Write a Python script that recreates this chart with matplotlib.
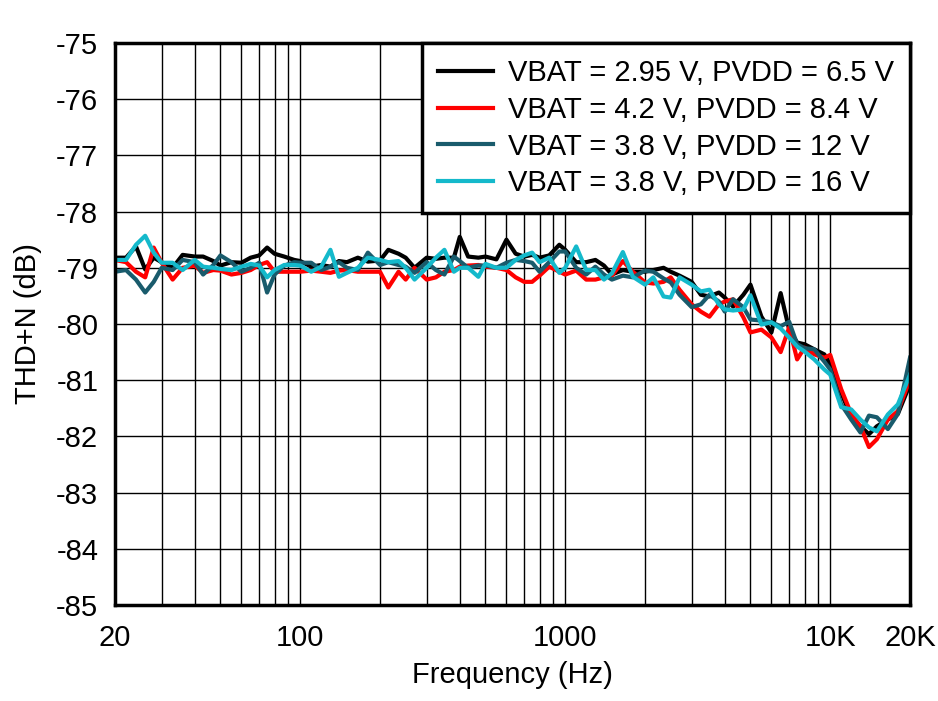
import matplotlib
matplotlib.use("Agg")
import matplotlib.pyplot as plt
from matplotlib.ticker import FixedLocator, FixedFormatter, LogLocator, NullFormatter

plt.rcParams['font.family'] = ['Liberation Sans', 'DejaVu Sans']
plt.rcParams['axes.unicode_minus'] = False

# frequency points (Hz)
freq = [20, 22, 24, 26, 28, 30, 33, 36, 40, 43, 47, 50, 55, 60, 65, 70, 75, 80, 87, 95,
        100, 110, 120, 130, 140, 150, 165, 180, 200, 215, 235, 250, 270, 300, 325, 350, 380, 400, 430, 470,
        500, 550, 600, 650, 700, 750, 800, 870, 950, 1000, 1100, 1200, 1300, 1400, 1500, 1650, 1800, 2000,
        2150, 2350, 2500, 2700, 3000, 3250, 3500, 3800, 4000, 4300, 4700, 5000, 5500, 6000, 6500, 7000,
        7500, 8000, 8700, 9500, 10000, 11000, 12000, 13000, 14000, 15000, 16500, 18000, 20000]

# THD+N (dB)
thd_295_65 = [-78.82, -78.82, -78.62, -79.03, -78.82, -78.90, -79.00, -78.77, -78.80, -78.80,
              -78.88, -78.96, -78.90, -78.91, -78.82, -78.78, -78.64, -78.75, -78.80, -78.86,
              -78.88, -78.98, -78.95, -78.98, -78.88, -78.90, -78.82, -78.89, -78.87, -78.68,
              -78.75, -78.82, -79.00, -78.82, -78.84, -78.82, -78.82, -78.45, -78.80, -78.82,
              -78.80, -78.85, -78.50, -78.75, -78.80, -78.77, -78.82, -78.78, -78.59, -78.68,
              -78.90, -78.90, -78.86, -78.96, -79.12, -79.04, -79.07, -79.07, -79.04, -79.00,
              -79.07, -79.14, -79.25, -79.48, -79.51, -79.44, -79.53, -79.69, -79.48, -79.30,
              -79.87, -80.15, -79.45, -80.10, -80.33, -80.36, -80.45, -80.54, -80.72, -81.22,
              -81.66, -81.82, -81.96, -81.82, -81.70, -81.60, -81.07]

thd_42_84 = [-78.86, -78.90, -79.07, -79.17, -78.64, -78.91, -79.21, -79.00, -78.96, -79.09,
             -79.04, -79.05, -79.12, -79.09, -79.04, -78.95, -78.90, -79.07, -79.07, -79.07,
             -79.07, -79.05, -79.07, -79.09, -79.05, -79.04, -79.07, -79.07, -79.07, -79.35,
             -79.07, -79.21, -79.00, -79.21, -79.17, -79.07, -79.04, -78.98, -78.96, -78.95,
             -78.98, -79.00, -79.04, -79.17, -79.25, -79.25, -79.14, -78.98, -79.07, -79.12,
             -79.05, -79.21, -79.21, -79.17, -79.14, -78.88, -79.07, -79.26, -79.28, -79.25,
             -79.17, -79.39, -79.65, -79.78, -79.87, -79.65, -79.60, -79.56, -79.88, -80.15,
             -80.10, -80.24, -80.50, -80.06, -80.63, -80.42, -80.54, -80.60, -80.55, -81.16,
             -81.60, -81.82, -82.19, -82.05, -81.70, -81.55, -80.99]

thd_38_12 = [-79.07, -79.04, -79.21, -79.44, -79.25, -79.00, -79.04, -78.86, -78.90, -79.12,
             -78.95, -78.78, -78.90, -79.07, -79.00, -78.91, -79.44, -79.12, -78.96, -78.90,
             -78.91, -78.91, -79.04, -78.98, -78.90, -79.00, -79.04, -78.73, -78.95, -78.90,
             -78.95, -78.98, -79.09, -78.90, -79.04, -79.12, -78.80, -78.88, -79.00, -78.96,
             -78.96, -79.00, -78.91, -78.86, -78.88, -78.91, -79.07, -78.90, -78.71, -78.71,
             -79.00, -79.12, -78.98, -79.12, -79.21, -79.14, -79.17, -79.05, -79.07, -79.19,
             -79.26, -79.48, -79.70, -79.65, -79.48, -79.60, -79.78, -79.56, -79.70, -79.92,
             -79.94, -79.97, -80.04, -79.96, -80.36, -80.43, -80.45, -80.67, -80.81, -81.43,
             -81.70, -81.93, -81.63, -81.66, -81.87, -81.60, -80.60]

thd_38_16 = [-78.86, -78.86, -78.59, -78.43, -78.73, -78.91, -78.91, -79.04, -78.86, -78.98,
             -79.00, -79.02, -79.04, -78.98, -78.93, -78.96, -79.17, -79.04, -78.95, -78.95,
             -78.96, -79.07, -78.98, -78.68, -79.16, -79.09, -79.00, -78.82, -78.86, -78.90,
             -78.88, -79.00, -79.21, -79.00, -78.82, -78.68, -79.07, -79.00, -79.00, -79.16,
             -78.93, -79.00, -79.00, -78.86, -78.78, -78.73, -78.90, -78.82, -79.09, -79.00,
             -78.62, -79.04, -79.04, -79.21, -79.10, -78.72, -79.16, -79.30, -79.17, -79.51,
             -79.53, -79.17, -79.30, -79.42, -79.39, -79.65, -79.74, -79.76, -79.74, -79.49,
             -80.01, -79.97, -80.08, -80.24, -80.40, -80.49, -80.63, -80.81, -80.90, -81.48,
             -81.52, -81.70, -81.84, -81.91, -81.61, -81.43, -80.90]

fig = plt.figure(figsize=(9.38, 7.01), dpi=100)
ax = fig.add_axes([115 / 938, 1 - 605 / 701, 795 / 938, 562 / 701])

ax.plot(freq, thd_295_65, color='black', lw=3, label='VBAT = 2.95 V, PVDD = 6.5 V')
ax.plot(freq, thd_42_84, color='#ff0000', lw=3, label='VBAT = 4.2 V, PVDD = 8.4 V')
ax.plot(freq, thd_38_12, color='#195b6c', lw=3, label='VBAT = 3.8 V, PVDD = 12 V')
ax.plot(freq, thd_38_16, color='#14b9cb', lw=3, label='VBAT = 3.8 V, PVDD = 16 V')

ax.set_xscale('log')
ax.set_xlim(20, 20000)
ax.set_ylim(-85, -75)

ax.xaxis.set_major_locator(FixedLocator([20, 100, 1000, 10000, 20000]))
ax.xaxis.set_major_formatter(FixedFormatter(['20', '100', '1000', '10K', '20K']))
ax.xaxis.set_minor_locator(LogLocator(base=10, subs=range(2, 10), numticks=20))
ax.xaxis.set_minor_formatter(NullFormatter())
ax.set_yticks(range(-85, -74))

ax.grid(True, which='both', color='black', lw=1)
ax.tick_params(which='both', length=0, labelsize=21)
ax.tick_params(axis='y', pad=12)
ax.tick_params(axis='x', pad=14)
for s in ax.spines.values():
    s.set_linewidth(2.5)

ax.set_xlabel('Frequency (Hz)', fontsize=21, labelpad=6)
ax.set_ylabel('THD+N (dB)', fontsize=21, labelpad=10)

leg = ax.legend(loc='upper right', fontsize=21, borderaxespad=0, fancybox=False,
                framealpha=1, edgecolor='black', handlelength=1.9, labelspacing=0.3,
                borderpad=0.55, handletextpad=0.5)
leg.get_frame().set_linewidth(2.5)
for h in leg.get_lines():
    h.set_linewidth(3)

fig.savefig('out.png', dpi=100)
